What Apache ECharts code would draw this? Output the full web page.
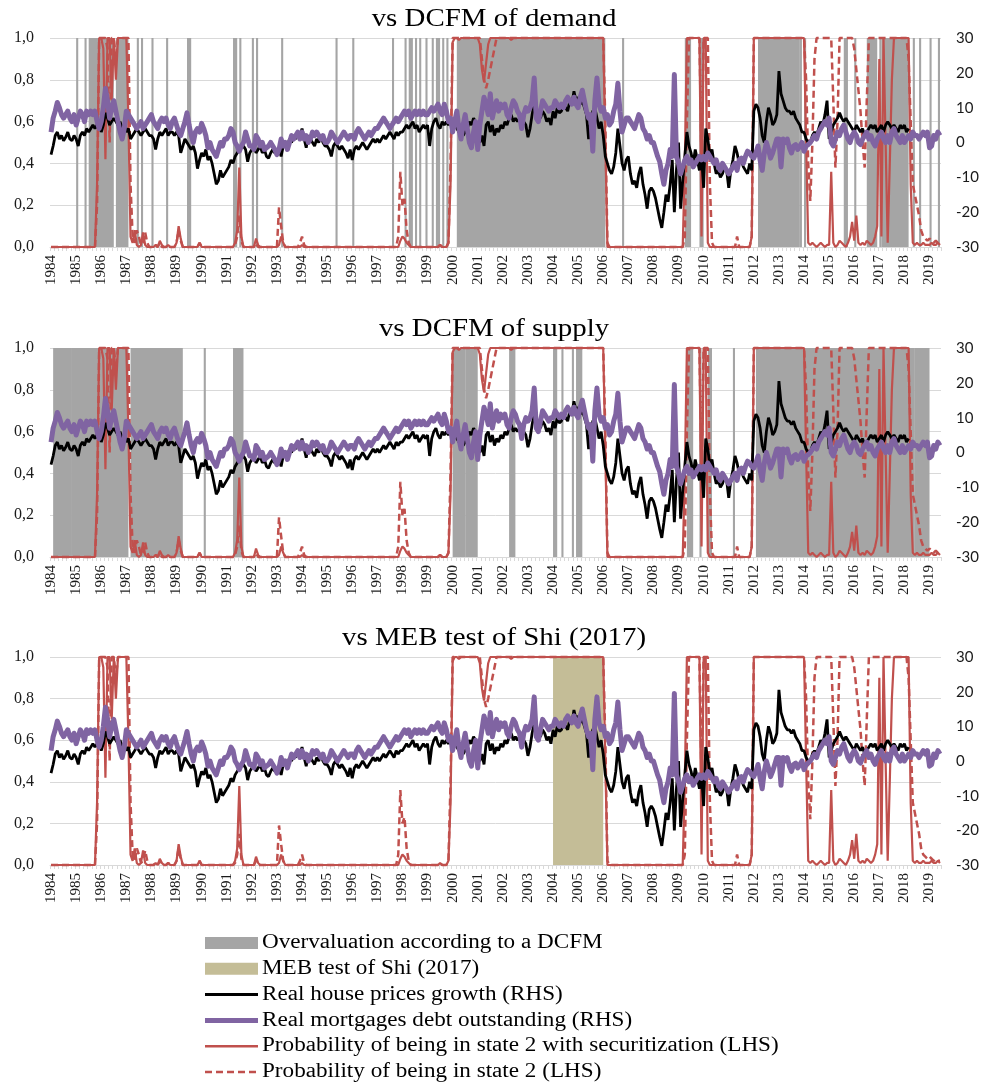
<!DOCTYPE html>
<html>
<head>
<meta charset="utf-8">
<script src="https://cdn.jsdelivr.net/npm/echarts/dist/echarts.min.js"></script>
<style>
html,body{margin:0;padding:0;background:#fff;}
#chart{width:982px;height:1088px;}
</style>
</head>
<body>
<div id="chart"></div>
<script>
// ---------- DATA ----------
// monthly categories Jan 1984 .. Jun 2019
const categories = [];
for (let y = 1984; y <= 2019; y++) {
  for (let m = 1; m <= 12; m++) {
    if (y === 2019 && m > 6) break;
    categories.push(y + '-' + String(m).padStart(2, '0'));
  }
}
const panelTitles = ['vs DCFM of demand', 'vs DCFM of supply', 'vs MEB test of Shi (2017)'];
const leftTicks = [0, 0.2, 0.4, 0.6, 0.8, 1.0];
const rightTicks = [-30, -20, -10, 0, 10, 20, 30];

// Real house prices growth (RHS), one row per year
const housePrices = [
 [-3.5,-1,2,3,1,2,0.5,1.5,3,1,0.5,2],
 [1,-1,2,3,2,4,3,4,5,4,5,6],
 [3,5,8.5,7,5,6,7,6,5,6,4,5],
 [3,4,1,2,3,4,3,2,3,4,3,2],
 [2,1,-2,1,3,2,3,4,2,3,3,2],
 [3,2,-3,-1,1,0,-1,-2,-1,-3,-7.5,-5],
 [-3,-4,-2,-5,-4,-6,-9,-12,-11,-8,-10,-9],
 [-8,-7,-5,-6,-4,-3,-2,-1.5,-1,-2,-5.5,-3],
 [-2,-1,-3,-2,-1,-3,-2,-4,-4.5,-3,-2,-3],
 [-3,-2,-4,-1,0,-1,1,0,2,1,3,2],
 [4,1,-1.5,2,1,0,-1,1,0,2,0,-1],
 [-1,-2,-4,-1,0,-1,-2,-1,-2,-3,-4.5,-2],
 [-5,-2,-1,-2,-1,0,-1,-2,-1,0,1,0],
 [1,0,1,2,1,2,3,2,1,3,2,3],
 [3,4,5,4,5,6,4,5,3,4,5,4],
 [5,-1,4,6,7,5,4,6,5,6,5,6],
 [5,6,4,3,5,2,3,4,6,5,7,6],
 [4,0,2,-1,5,6,3,5,2,4,3,5],
 [4,6,5,7,8,6,7,6,7,8,6,5],
 [1.5,4,8,11,9,8,7,9,8,6,7,5],
 [9,7,10,8.5,9,11,10,9,12,11,14.7,12],
 [13,11,12,10,8,1,6,9,10,7,4,6],
 [2,-4,-6,-8,-9,-7,-3,4,-1,-6,-8,-5],
 [-4,-9,-12,-11,-13,-9,-7,-12,-15,-19,-14,-13],
 [-14,-16,-19,-22,-24.5,-20,-15,-17,-12,-5,-20,-8],
 [0,-19,-11,-4,3,-1,-3,-6,-2,-5,-8,-4],
 [-13,4,1,-4,-2,-6,-9,-8,-10,-9,-7,-8],
 [-13,-8,-5,-1,-3,-6,-5,-7,-8,-9,-6,-8],
 [9,11,10,7,2,0,6,10,8,5,6,8],
 [20.5,14,12,10,9,9,8,9,7,6,5,3],
 [3,1,0,0,2,3,2,4,6,5,8,12],
 [1,3,5,6,7,8.5,7,6,7,6,5,4],
 [3,5,4,3,4,2,3,4,5,4,5,3],
 [4,5,3,5,6,5,4,5,4,3,5,4],
 [5,3,4,null,null,null,null,null,null,null,null,null],
 [null,null,null,null,null,null]
];

// Real mortgages debt outstanding (RHS)
const mortgageDebt = [
 [3,7,9,11.5,10,8,7,8,9,7,6,8],
 [5,7,9,8,6,9,8,9,8,9,6,4],
 [6,10,15.5,12,7,10,12,9,6,3,1,4],
 [9,8,7,6,5,4,5,6,4,5,6,7],
 [8,6,5,4,6,7,6,7,5,4,6,7],
 [5,3,2,4,6,8.5,5,2,0,3,4,3],
 [5.5,4,2,-1.5,0,-2,-3,-4,-2,0,-1,1],
 [1,2,4,3,0,-1,-2.5,-1,0,3,1,-1],
 [-1,-2,2,1,-1,0,-2,-1.5,-1,0,-1,-2],
 [-3.5,-2,1,-1,0,-2,0,2,1,2,3,1],
 [3,1,2,0,1,3,2,3,2,1,2,0],
 [0,1,3,2,1,0,1,2,3,2,1,2],
 [2,1,3,4,3,2,1,2,3,2,3,4],
 [4,5,6,7,6,5,4,5,6,7,6,7],
 [8,9,8,9,7,8,9,8,9,8,9,8],
 [8,9,10,9,10,11,9,8,11,9,6,7],
 [3,6,9,4,1,5,8,4,0,-1.5,3,6],
 [-2,5,9,13,11,8,14,7,10,12,9,11],
 [10,11,8,7,10,12,11,9,8,4,8,10],
 [9,10,12,18.5,7,6,9,12,11,10,9,10],
 [10,12,11,10,11,10,12,13,12,11,13,11],
 [10,13,15,12,9,7,8,-2.5,12,18.5,11,9],
 [10,7,8,5,6,9,11,17,9,3,5,7],
 [7,6,5,4,6,8,7,4,3,1,2,0],
 [0,-2,-4,-5.5,-9,-12,-8,-6,-2,-4,19.5,-4],
 [-6,-9,-7,-5,-4,-6,-5,-7,-6,-5,-4,-5],
 [-4,-5,-3,-4,-5,-6,-5,-7,-8,-6,-7,-8],
 [-9,-8,-7,-6,-8,-5,-4.5,-6,-4,-2.5,-3,-4],
 [-4.5,-3,-1,-5,-8,-3,0,-2,-4.5,-3,-1,1],
 [1,-7,1,0,1,-1.5,-3,-1,-0.6,-2,-1,0],
 [-2.5,-1,-0.6,0,1,2,1,3,4,5,6,5],
 [7,0,-1,1,3,2,4,5,3,1,0,2],
 [3,2,0,-0.6,1,2,3,1,2,0,-1,1],
 [2,3,1,0,2,0,3,4,2,1,0,2],
 [0,1,2,1,3,2,2,1,2,3,2,3],
 [-1.5,-1,2,1,3,2]
];

// Probability of being in state 2 with securitization (LHS)
const probSecuritization = [
 [0,0,0,0,0,0,0,0,0,0,0,0],
 [0,0,0,0,0,0,0,0,0,0,0.3,1],
 [1,0.95,0.42,1,1,0.7,1,0.8,1,1,1,1],
 [1,0.6,0.05,0.02,0.08,0.01,0,0.01,0.07,0.01,0,0],
 [0,0,0.01,0,0.03,0.01,0,0,0.01,0,0,0],
 [0.02,0.1,0.04,0,0,0,0,0,0,0,0,0.02],
 [0,0,0,0,0,0,0,0,0,0,0,0],
 [0,0,0,0,0.02,0.08,0.38,0.05,0,0,0,0],
 [0,0,0.04,0.01,0,0,0,0,0,0,0,0],
 [0,0.01,0.05,0.02,0,0,0,0,0,0,0,0],
 [0.01,0,0,0,0,0,0,0,0,0,0,0],
 [0,0,0,0,0,0,0,0,0,0,0,0],
 [0,0,0,0,0,0,0,0,0,0,0,0],
 [0,0,0,0,0,0,0,0,0,0,0,0.03],
 [0.05,0.04,0.02,0.01,0,0,0,0,0,0,0,0],
 [0,0,0,0,0,0,0.01,0,0,0,0.02,0.3],
 [0.98,1,1,0.99,1,1,1,1,1,1,1,1],
 [1,0.97,0.85,0.79,0.88,0.97,1,1,1,1,1,1],
 [1,1,1,1,0.99,1,1,1,1,1,1,1],
 [1,1,1,1,1,1,1,1,1,1,1,1],
 [1,1,1,1,1,1,1,1,1,1,1,1],
 [1,1,1,1,1,1,1,1,1,1,1,1],
 [1,0.5,0,0,0,0,0,0,0,0,0,0],
 [0,0,0,0,0,0,0,0,0,0,0,0],
 [0,0,0,0,0,0,0,0,0,0,0,0],
 [0,0,0,0.4,1,1,1,1,1,1,1,0.05],
 [1,1,0.02,0,0,0,0,0,0,0,0,0],
 [0,0,0,0,0,0,0,0,0,0,0,0.05],
 [1,1,1,1,1,1,1,1,1,1,1,1],
 [1,1,1,1,1,1,1,1,1,1,1,1],
 [1,0.5,0.02,0.01,0.02,0.01,0,0.01,0.02,0.01,0,0.01],
 [0.01,0.36,0.02,0,0.01,0.03,0.02,0.01,0,0.02,0.05,0.12],
 [0.03,0.15,0.02,0.01,0.02,0.01,0.03,0.02,0.01,0.02,0.05,0.1],
 [0.9,0.05,1,0.5,0.02,0.4,0.8,1,1,1,1,1],
 [1,1,1,0.3,0.02,0.01,0.02,0.01,0.01,0.02,0.01,0.01],
 [0.01,0.02,0.01,0.01,0.02,0.01]
];

// Probability of being in state 2 (LHS)
const probState2 = [
 [0,0,0,0,0,0,0,0,0,0,0,0],
 [0,0,0,0,0,0,0,0,0,0,0.2,1],
 [1,1,1,0.95,0.5,1,1,0.9,1,1,1,1],
 [1,1,0.3,0.05,0.02,0.08,0.05,0.01,0.02,0.07,0.02,0],
 [0,0,0.01,0,0.02,0,0,0,0.01,0,0,0],
 [0.02,0.08,0.03,0,0,0,0,0,0,0,0,0.02],
 [0,0,0,0,0,0,0,0,0,0,0,0],
 [0,0,0,0,0.01,0.05,0.15,0.03,0,0,0,0],
 [0,0,0.02,0,0,0,0,0,0,0,0,0],
 [0,0.19,0.1,0.02,0,0,0,0,0,0,0,0.02],
 [0.05,0.01,0,0,0,0,0,0,0,0,0,0],
 [0,0,0,0,0,0,0,0,0,0,0,0],
 [0,0,0,0,0,0,0,0,0,0,0,0],
 [0,0,0,0,0,0,0,0,0,0,0.05,0.36],
 [0.2,0.23,0.08,0.02,0,0,0,0,0,0,0,0],
 [0,0,0,0,0,0,0.01,0,0,0,0.02,0.4],
 [1,1,1,1,1,1,1,1,1,1,1,1],
 [1,1,0.9,0.8,0.76,0.8,0.85,0.9,0.95,1,1,1],
 [1,1,1,1,1,1,1,1,1,1,1,1],
 [1,1,1,1,1,1,1,1,1,1,1,1],
 [1,1,1,1,1,1,1,1,1,1,1,1],
 [1,1,1,1,1,1,1,1,1,1,1,1],
 [1,0.6,0.02,0,0,0,0,0,0,0,0,0],
 [0,0,0,0,0,0,0,0,0,0,0,0],
 [0,0,0,0,0,0,0,0,0,0,0,0],
 [0,0,0,0.05,0.6,1,1,1,1,1,1,0.4],
 [1,1,1,0.3,0.02,0,0,0,0,0,0,0],
 [0,0,0,0,0.05,0,0,0,0,0,0,0.05],
 [1,1,1,1,1,1,1,1,1,1,1,1],
 [1,1,1,1,1,1,1,1,1,1,1,1],
 [1,0.8,0.4,0.22,0.5,0.9,1,1,1,1,1,1],
 [1,1,0.7,0.38,0.6,1,1,1,1,1,1,1],
 [0.95,0.85,0.75,0.65,0.5,0.38,0.7,1,1,1,1,1],
 [1,1,1,1,1,1,1,1,1,1,1,1],
 [1,1,0.9,0.6,0.3,0.25,0.2,0.15,0.08,0.05,0.04,0.03],
 [0.04,0.03,0.02,0.03,0.02,0.02]
];

// Shaded periods [first month, last month]
const demandOvervaluation = [
 ['1985-01','1985-01'],['1985-05','1985-05'],['1985-07','1986-06'],['1986-08','1987-01'],
 ['1987-06','1987-06'],['1987-08','1987-08'],['1988-01','1988-01'],['1988-08','1988-08'],
 ['1989-06','1989-07'],['1991-04','1991-05'],['1991-07','1991-07'],['1992-01','1992-01'],
 ['1992-03','1992-03'],['1993-03','1993-03'],['1995-05','1995-05'],['1996-01','1996-01'],
 ['1997-08','1997-08'],['1998-02','1998-02'],['1998-04','1998-05'],['1998-07','1998-07'],
 ['1998-09','1998-09'],['1998-12','1998-12'],['1999-03','1999-03'],['1999-05','1999-06'],
 ['1999-08','1999-08'],['1999-10','1999-10'],['2000-03','2006-01'],['2006-10','2006-10'],
 ['2009-04','2009-06'],['2009-11','2009-12'],['2012-03','2013-10'],['2013-11','2013-11'],
 ['2014-01','2014-01'],['2015-08','2015-09'],['2016-01','2016-01'],['2016-07','2016-11'],
 ['2017-01','2017-01'],['2017-02','2018-02'],['2018-05','2018-05'],['2018-08','2018-08'],
 ['2019-01','2019-01'],['2019-05','2019-05']
];
const supplyOvervaluation = [
 ['1984-02','1984-10'],['1984-11','1987-01'],['1987-03','1989-03'],['1990-02','1990-02'],
 ['1991-04','1991-08'],['2000-01','2000-06'],['2000-07','2000-12'],['2002-04','2002-06'],
 ['2004-01','2004-02'],['2004-05','2004-05'],['2004-10','2004-10'],['2004-12','2005-02'],
 ['2009-05','2009-07'],['2009-11','2009-11'],['2010-03','2010-04'],['2011-03','2011-03'],
 ['2012-02','2018-05'],['2018-06','2018-12']
];
const mebBubble = [['2004-01','2005-12']];

// ---------- CHART ----------
const flat = a => a.flat();
const hp = flat(housePrices), md = flat(mortgageDebt), ps = flat(probSecuritization), p2 = flat(probState2);

const GRAY = '#a5a5a5', TAN = '#c4bd97', RED = '#c0504d', PURPLE = '#8064a2';
const SERIF = '"Liberation Serif", "Times New Roman", serif';

function areas(intervals) {
  return intervals.map(([s, e]) => {
    const i = categories.indexOf(e);
    return [{ xAxis: s }, { xAxis: categories[Math.min(i + 1, categories.length - 1)] }];
  });
}

const panels = [
  { title: panelTitles[0], shading: demandOvervaluation, color: GRAY, top: 38, height: 209, titleY: 19 },
  { title: panelTitles[1], shading: supplyOvervaluation, color: GRAY, top: 348, height: 209, titleY: 329 },
  { title: panelTitles[2], shading: mebBubble, color: TAN, top: 657, height: 208, titleY: 638 }
];

const grid = [], xAxis = [], yAxis = [], series = [], graphic = [];
panels.forEach((p, i) => {
  grid.push({ left: 50, right: 37, top: p.top, height: p.height, containLabel: false });
  xAxis.push({
    type: 'category', gridIndex: i, data: categories, boundaryGap: true,
    axisLine: { show: true, lineStyle: { color: '#d9d9d9', width: 1 } },
    axisTick: { show: true, interval: 1, length: 4, lineStyle: { color: '#d9d9d9' } },
    axisLabel: {
      interval: (idx) => idx % 12 === 0, rotate: 90,
      formatter: v => v.slice(0, 4),
      fontFamily: SERIF, fontSize: 15, color: '#1a1a1a', margin: 8
    },
    splitLine: { show: false }
  });
  yAxis.push({
    type: 'value', gridIndex: i, position: 'left', min: leftTicks[0], max: leftTicks[leftTicks.length - 1], interval: 0.2,
    axisLine: { show: false }, axisTick: { show: false },
    axisLabel: { formatter: v => v.toFixed(1).replace('.', ','), fontFamily: SERIF, fontSize: 16, color: '#1a1a1a', margin: 16 },
    splitLine: { show: true, lineStyle: { color: '#d9d9d9', width: 1 } }
  });
  yAxis.push({
    type: 'value', gridIndex: i, position: 'right', min: rightTicks[0], max: rightTicks[rightTicks.length - 1], interval: 10,
    axisLine: { show: false }, axisTick: { show: false },
    axisLabel: { fontFamily: 'Lato, "Open Sans", sans-serif', fontSize: 15, color: '#1a1a1a', margin: 15 },
    splitLine: { show: false }
  });
  series.push({
    type: 'line', name: 'Probability of being in state 2 with securitization (LHS)',
    xAxisIndex: i, yAxisIndex: 2 * i, data: ps, showSymbol: false, symbol: 'none', clip: false, z: 2,
    lineStyle: { color: RED, width: 2.2 }, itemStyle: { color: RED },
    markArea: { silent: true, z: 1, itemStyle: { color: p.color, opacity: 1 }, data: areas(p.shading) }
  });
  series.push({
    type: 'line', name: 'Probability of being in state 2 (LHS)',
    xAxisIndex: i, yAxisIndex: 2 * i, data: p2, showSymbol: false, symbol: 'none', clip: false, z: 3,
    lineStyle: { color: RED, width: 2.5, type: [7, 4] }, itemStyle: { color: RED }
  });
  series.push({
    type: 'line', name: 'Real house prices growth (RHS)',
    xAxisIndex: i, yAxisIndex: 2 * i + 1, data: hp, showSymbol: false, symbol: 'none', clip: false, z: 4,
    lineStyle: { color: '#000', width: 2.8 }, itemStyle: { color: '#000' }
  });
  series.push({
    type: 'line', name: 'Real mortgages debt outstanding (RHS)',
    xAxisIndex: i, yAxisIndex: 2 * i + 1, data: md, showSymbol: false, symbol: 'none', clip: false, z: 5,
    lineStyle: { color: PURPLE, width: 5, join: 'round' }, itemStyle: { color: PURPLE }
  });
  graphic.push({
    type: 'text', x: 494, y: p.titleY, scaleX: 1.155, z: 10,
    style: { text: p.title, font: '25px ' + SERIF, fill: '#000', textAlign: 'center', textVerticalAlign: 'middle' }
  });
});

// legend (drawn as graphics)
const legendItems = [
  { kind: 'rect', color: GRAY, label: 'Overvaluation according to a DCFM' },
  { kind: 'rect', color: TAN, label: 'MEB test of Shi (2017)' },
  { kind: 'line', color: '#000', width: 3, label: 'Real house prices growth (RHS)' },
  { kind: 'line', color: PURPLE, width: 5, label: 'Real mortgages debt outstanding (RHS)' },
  { kind: 'line', color: RED, width: 2.5, label: 'Probability of being in state 2 with securitization (LHS)' },
  { kind: 'line', color: RED, width: 2.5, dash: [7, 4], label: 'Probability of being in state 2 (LHS)' }
];
legendItems.forEach((it, k) => {
  const cy = 943 + k * 25.8;
  if (it.kind === 'rect') {
    graphic.push({ type: 'rect', shape: { x: 205, y: cy - 6, width: 53, height: 12 }, style: { fill: it.color } });
  } else {
    graphic.push({ type: 'line', shape: { x1: 205, y1: cy, x2: 258, y2: cy },
      style: { stroke: it.color, lineWidth: it.width, lineDash: it.dash || null } });
  }
  graphic.push({ type: 'text', x: 262, y: cy, scaleX: 1.157,
    style: { text: it.label, font: '20px ' + SERIF, fill: '#000', textAlign: 'left', textVerticalAlign: 'middle' } });
});

const chart = echarts.init(document.getElementById('chart'), null, { renderer: 'canvas' });
chart.setOption({
  animation: false,
  backgroundColor: '#fff',
  grid, xAxis, yAxis, series, graphic
});
</script>
</body>
</html>
